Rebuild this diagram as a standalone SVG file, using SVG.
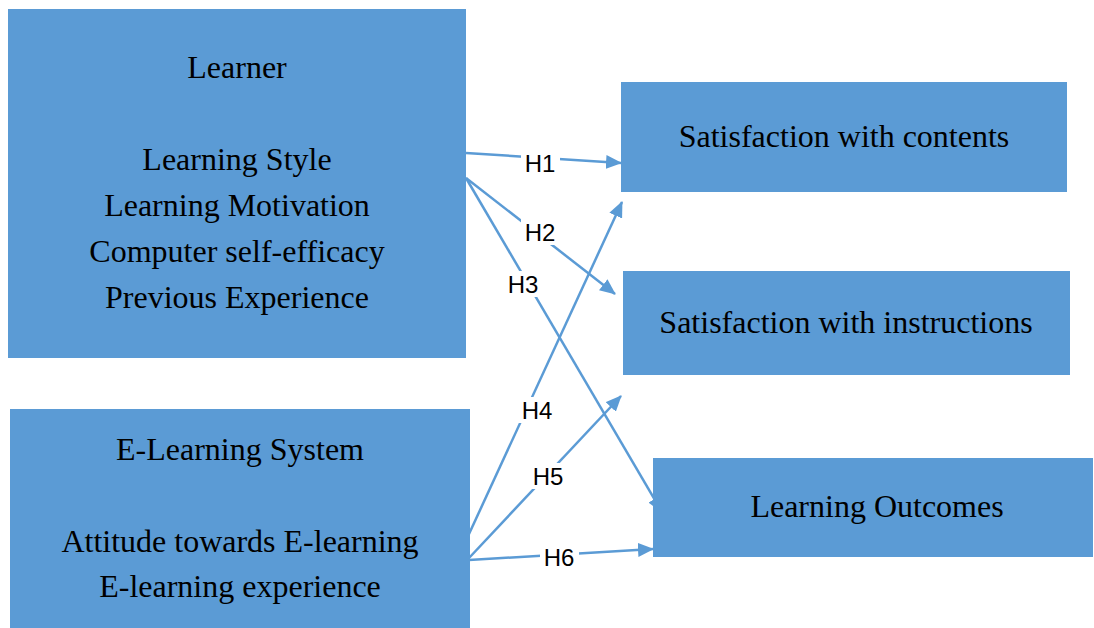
<svg xmlns="http://www.w3.org/2000/svg" width="1094" height="628" viewBox="0 0 1094 628">
  <style>
    .box { fill: #5B9BD5; }
    .t { font-family: "Liberation Serif", "Times New Roman", serif; font-size: 32px; fill: #000; text-anchor: middle; }
    .edge { stroke: #5B9BD5; stroke-width: 2.5; fill: none; marker-end: url(#arrow); }
    .lbl-bg { fill: #fff; }
    .lbl { font-family: "Liberation Sans", Arial, sans-serif; font-size: 24px; fill: #000; text-anchor: middle; }
  </style>
  <defs>
    <marker id="arrow" markerUnits="userSpaceOnUse" markerWidth="16" markerHeight="14" refX="15" refY="7" orient="auto">
      <path d="M0,0 L16,7 L0,14 Z" fill="#5B9BD5"/>
    </marker>
  </defs>
  <rect width="1094" height="628" fill="#fff"/>

  <!-- connectors sit beneath the boxes -->
  <g id="connectors">
    <line class="edge" x1="466" y1="153" x2="621" y2="163"/>
    <line class="edge" x1="466" y1="178" x2="615" y2="294"/>
    <line class="edge" x1="466" y1="178" x2="662" y2="512"/>
    <line class="edge" x1="469" y1="534" x2="622" y2="202"/>
    <line class="edge" x1="469" y1="558" x2="621" y2="396"/>
    <line class="edge" x1="469" y1="560" x2="653" y2="549"/>

    <rect class="lbl-bg" x="521" y="150" width="39" height="26"/>
    <text class="lbl" x="540" y="172">H1</text>
    <rect class="lbl-bg" x="521" y="219" width="39" height="26"/>
    <text class="lbl" x="540" y="241">H2</text>
    <rect class="lbl-bg" x="503" y="271" width="39" height="26"/>
    <text class="lbl" x="523" y="293">H3</text>
    <rect class="lbl-bg" x="518" y="397" width="39" height="26"/>
    <text class="lbl" x="537" y="419">H4</text>
    <rect class="lbl-bg" x="529" y="463" width="39" height="26"/>
    <text class="lbl" x="548" y="485">H5</text>
    <rect class="lbl-bg" x="540" y="544" width="39" height="26"/>
    <text class="lbl" x="559" y="566">H6</text>
  </g>

  <g id="learner">
    <rect class="box" x="8" y="9" width="458" height="349"/>
    <text class="t" x="237" y="78">Learner</text>
    <text class="t" x="237" y="170">Learning Style</text>
    <text class="t" x="237" y="216">Learning Motivation</text>
    <text class="t" x="237" y="262">Computer self-efficacy</text>
    <text class="t" x="237" y="308">Previous Experience</text>
  </g>

  <g id="elearning-system">
    <rect class="box" x="10" y="409" width="460" height="219"/>
    <text class="t" x="240" y="460">E-Learning System</text>
    <text class="t" x="240" y="552">Attitude towards E-learning</text>
    <text class="t" x="240" y="597">E-learning experience</text>
  </g>

  <g id="sat-contents">
    <rect class="box" x="621" y="82" width="446" height="110"/>
    <text class="t" x="844" y="147">Satisfaction with contents</text>
  </g>

  <g id="sat-instructions">
    <rect class="box" x="623" y="271" width="447" height="104"/>
    <text class="t" x="846" y="333">Satisfaction with instructions</text>
  </g>

  <g id="outcomes">
    <rect class="box" x="653" y="458" width="440" height="99"/>
    <text class="t" x="877" y="517">Learning Outcomes</text>
  </g>
</svg>
